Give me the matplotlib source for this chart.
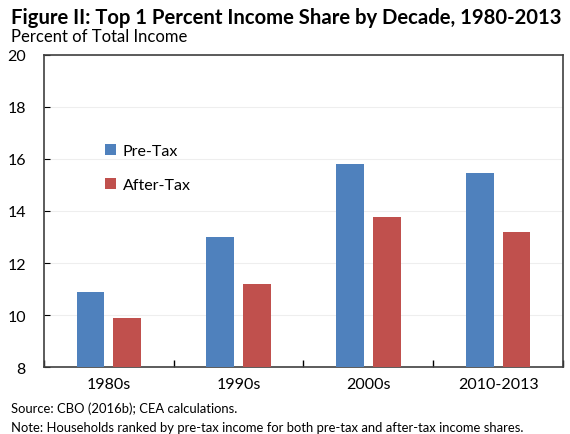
import numpy as np
import matplotlib
matplotlib.use("Agg")
import matplotlib.pyplot as plt

decades = ["1980s", "1990s", "2000s", "2010-2013"]
pre_tax = [10.9, 13.0, 15.8, 15.45]
after_tax = [9.9, 11.2, 13.75, 13.2]
y_ticks = [8, 10, 12, 14, 16, 18, 20]

plt.rcParams["font.family"] = ["Lato", "DejaVu Sans"]

fig = plt.figure(figsize=(5.7, 4.35), dpi=100)
ax = fig.add_axes([0.0772, 0.154, 0.9105, 0.7173])

x = np.arange(len(decades))
w = 0.215
ax.bar(x - 0.142, pre_tax, w, color="#4F81BD", label="Pre-Tax", zorder=3)
ax.bar(x + 0.142, after_tax, w, color="#C0504D", label="After-Tax", zorder=3)

ax.set_ylim(8, 20)
ax.set_xlim(-0.5, len(decades) - 0.5)
ax.set_yticks(y_ticks)
ax.set_yticklabels([str(t) for t in y_ticks], fontsize=11.5)
ax.set_xticks(x)
ax.set_xticklabels(decades, fontsize=11.5)
ax.set_xticks(np.arange(len(decades) + 1) - 0.5, minor=True)
ax.tick_params(axis="x", which="major", length=0, pad=7)
ax.tick_params(axis="x", which="minor", direction="in", length=5, width=1)
ax.tick_params(axis="y", direction="in", length=4, pad=13)
ax.grid(axis="y", color="#eeeeee", linewidth=0.8, zorder=0)
for s in ax.spines.values():
    s.set_color("#404040")
    s.set_linewidth(1.2)

leg = ax.legend(loc="upper left", bbox_to_anchor=(0.09, 0.76), frameon=False,
                fontsize=11.5, handlelength=0.7, handleheight=0.7,
                handletextpad=0.4, labelspacing=1.2)

fig.text(0.02, 0.958, "Figure II: Top 1 Percent Income Share by Decade, 1980-2013",
         fontsize=14.6, fontweight="bold", va="center")
fig.text(0.02, 0.914, "Percent of Total Income", fontsize=12, va="center")
fig.text(0.02, 0.06, "Source: CBO (2016b); CEA calculations.", fontsize=9.4, va="center")
fig.text(0.02, 0.017, "Note: Households ranked by pre-tax income for both pre-tax and after-tax income shares.",
         fontsize=9.4, va="center")

fig.savefig("out.png", dpi=100)
